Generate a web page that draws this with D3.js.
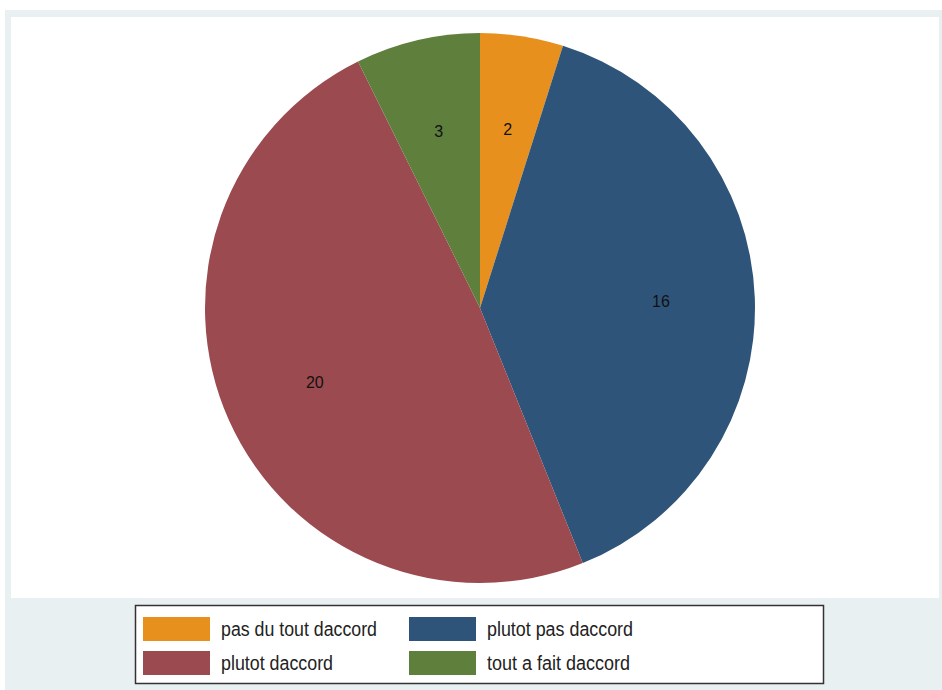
<!DOCTYPE html>
<html><head><meta charset="utf-8">
<script src="https://cdn.jsdelivr.net/npm/d3@7"></script>
<style>html,body{margin:0;padding:0;background:#fff;}</style>
</head><body>
<svg id="chart" width="942" height="690"></svg>
<script>
const categories = ["pas du tout daccord", "plutot pas daccord", "plutot daccord", "tout a fait daccord"];
const values = [2, 16, 20, 3];
const colors = ["#e8901e", "#2f5479", "#9b4a50", "#5f7f3d"];
const legendTextWidths = [156, 146, 112, 143];

const svg = d3.select("#chart");
const W = 942, H = 690;
svg.append("rect").attr("x", 5).attr("y", 10).attr("width", W - 5).attr("height", H - 10).attr("fill", "#e9f0f1");
svg.append("rect").attr("x", 11).attr("y", 17).attr("width", 928).attr("height", 581).attr("fill", "#ffffff");

const cx = 480, cy = 308, R = 275, labelR = 181;
const pie = d3.pie().sort(null).value(d => d);
const arcs = pie(values);
const arc = d3.arc().innerRadius(0).outerRadius(R);
const labelArc = d3.arc().innerRadius(labelR).outerRadius(labelR);
const g = svg.append("g").attr("transform", `translate(${cx},${cy})`);
g.selectAll("path").data(arcs).enter().append("path")
  .attr("d", arc).attr("fill", (d, i) => colors[i]);
g.selectAll("text").data(arcs).enter().append("text")
  .attr("transform", d => `translate(${labelArc.centroid(d)})`)
  .attr("text-anchor", "middle").attr("dominant-baseline", "central")
  .attr("font-family", "Liberation Sans, Arial, sans-serif").attr("font-size", 16)
  .attr("fill", "#111").text(d => d.data);

// legend
const lg = svg.append("g");
lg.append("rect").attr("x", 135.5).attr("y", 605.5).attr("width", 688).attr("height", 78)
  .attr("fill", "#fff").attr("stroke", "#333").attr("stroke-width", 1.5);
const cols = [143, 409], rows = [617, 651];
categories.forEach((c, i) => {
  const x = cols[i % 2], y = rows[Math.floor(i / 2)];
  lg.append("rect").attr("x", x).attr("y", y).attr("width", 67).attr("height", 24).attr("fill", colors[i]);
  lg.append("text").attr("x", x + 78).attr("y", y + 12).attr("dominant-baseline", "central")
    .attr("font-family", "Liberation Sans, Arial, sans-serif").attr("font-size", 20)
    .attr("textLength", legendTextWidths[i]).attr("lengthAdjust", "spacingAndGlyphs")
    .attr("fill", "#222").text(c);
});
</script>
</body></html>
